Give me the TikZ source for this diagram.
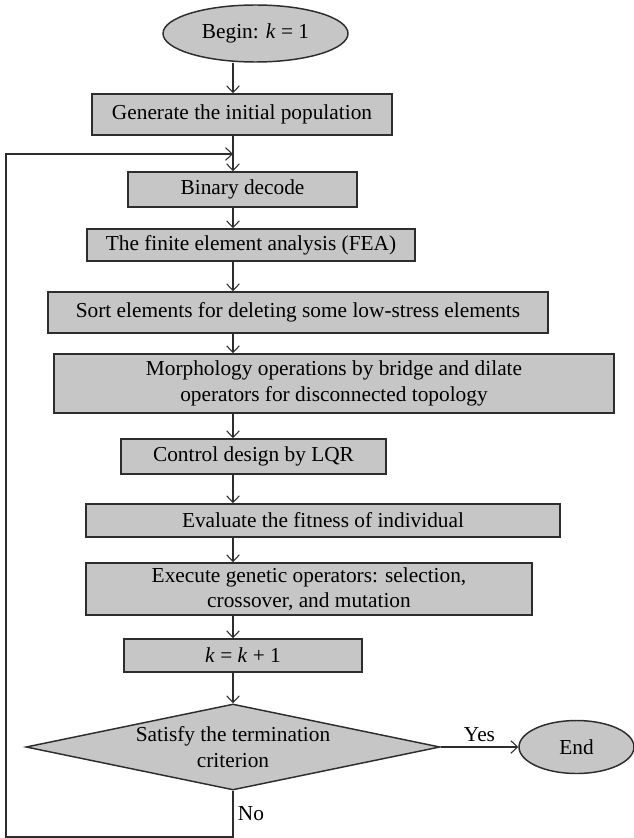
\documentclass[tikz,border=0pt]{standalone}
\usepackage{fontspec}
\setmainfont{Liberation Serif}
\usepackage{xcolor}
\usepackage{tikz}
\usetikzlibrary{arrows.meta,shapes.geometric}

\definecolor{boxgray}{RGB}{198,198,198}
\definecolor{edgegray}{RGB}{45,45,45}

\begin{document}
\begin{tikzpicture}[x=0.75pt,y=-0.75pt,font=\fontsize{16}{19}\selectfont,
  >={Straight Barb[length=5pt,width=9.5pt]},
  stepbox/.style={draw=edgegray,line width=1.1pt,fill=boxgray,inner sep=0pt,align=center},
  terminal/.style={stepbox,ellipse},
  decision/.style={stepbox,diamond,aspect=4.8},
  flow/.style={->,draw=edgegray,line width=0.8pt}]
\useasboundingbox (0,0) rectangle (634,838);
% start / end
\node[terminal,minimum width=138.75pt,minimum height=42.75pt] (begin) at (255.5,33.5) {Begin: \textit{k} = 1};
\node[terminal,minimum width=86.25pt,minimum height=39.75pt] (end) at (576.5,747) {End};
% process steps
\node[stepbox,minimum width=225pt,minimum height=30.75pt] (gen) at (242,114.5) {Generate the initial population};
\node[stepbox,minimum width=171.75pt,minimum height=26.25pt] (bin) at (242.5,189.5) {Binary decode};
\node[stepbox,minimum width=246pt,minimum height=24pt] (fea) at (251,245) {The finite element analysis (FEA)};
\node[stepbox,minimum width=375pt,minimum height=30.75pt] (sort) at (298,312.5) {Sort elements for deleting some low-stress elements};
\node[stepbox,minimum width=420pt,minimum height=44.25pt] (morph) at (334,383.5)
  {Morphology operations by bridge and dilate\\ operators for disconnected topology};
\node[stepbox,minimum width=198.75pt,minimum height=26.25pt] (lqr) at (253.5,456.5) {Control design by LQR};
\node[stepbox,minimum width=355.5pt,minimum height=24.75pt] (eval) at (323,520.5) {Evaluate the fitness of individual};
\node[stepbox,minimum width=334.5pt,minimum height=39pt] (exec) at (309,589)
  {Execute genetic operators: selection,\\ crossover, and mutation};
\node[stepbox,minimum width=178.5pt,minimum height=24.75pt] (kinc) at (243,655.5) {\textit{k} = \textit{k} + 1};
\node[decision,minimum width=310.5pt,minimum height=64.5pt] (sat) at (233,747)
  {Satisfy the termination\\ criterion};
% main flow
\coordinate (axis) at (233,0);
\draw[flow] (begin.south -| axis) -- (gen.north -| axis);
\draw[flow] (gen.south -| axis) -- (bin.north -| axis);
\draw[flow] (bin.south -| axis) -- (fea.north -| axis);
\draw[flow] (fea.south -| axis) -- (sort.north -| axis);
\draw[flow] (sort.south -| axis) -- (morph.north -| axis);
\draw[flow] (morph.south -| axis) -- (lqr.north -| axis);
\draw[flow] (lqr.south -| axis) -- (eval.north -| axis);
\draw[flow] (eval.south -| axis) -- (exec.north -| axis);
\draw[flow] (exec.south -| axis) -- (kinc.north -| axis);
\draw[flow] (kinc.south -| axis) -- (sat.north);
\draw[flow] (sat.east) -- (end.west) node[midway,above]{Yes};
% loop back
\coordinate (loopin) at (233,154);
\coordinate (lowleft) at (6,837);
\draw[flow] (sat.south) -- (sat.south |- lowleft) node[midway,right]{No}
  -- (lowleft) |- (loopin);
\end{tikzpicture}
\end{document}
